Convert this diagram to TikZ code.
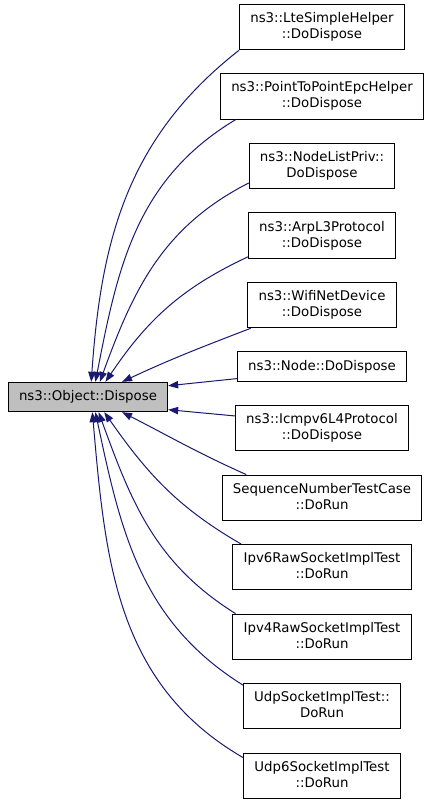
\documentclass[tikz,border=0pt]{standalone}
\usepackage{fontspec}
\setmainfont{DejaVu Sans}
\usepackage{xcolor}
\usepackage{tikz}
\usetikzlibrary{arrows.meta, positioning}
\definecolor{edgeblue}{RGB}{25,25,112}
\definecolor{rootgray}{RGB}{191,191,191}
\tikzset{
	fn/.style={draw=black, line width=0.75pt, fill=white, align=center, inner xsep=8pt, inner ysep=6pt, text depth=2.4pt, font=\fontsize{10}{12}\selectfont},
	root/.style={fn, fill=rootgray},
	call/.style={draw=edgeblue, line width=0.75pt, {Triangle[length=7.5pt,width=5.5pt,fill=edgeblue]}-}
}

\begin{document}
\begin{tikzpicture}[
	x=0.75pt, y=0.75pt,
	node distance=17.4pt]
	\useasboundingbox (0,0) rectangle (432,-803);
	\node[root] (dispose) at (88,-397) {ns3::Object::Dispose};
	\node[fn] (lte) at (322,-27) {ns3::LteSimpleHelper\\::DoDispose};
	\node[fn, below=of lte] (ptp) {ns3::PointToPointEpcHelper\\::DoDispose};
	\node[fn, below=of ptp] (nodelist) {ns3::NodeListPriv::\\DoDispose};
	\node[fn, below=of nodelist] (arp) {ns3::ArpL3Protocol\\::DoDispose};
	\node[fn, below=of arp] (wifi) {ns3::WifiNetDevice\\::DoDispose};
	\node[fn, below=of wifi] (node) {ns3::Node::DoDispose};
	\node[fn, below=of node] (icmp) {ns3::Icmpv6L4Protocol\\::DoDispose};
	\node[fn, below=of icmp] (seq) {SequenceNumberTestCase\\::DoRun};
	\node[fn, below=of seq] (ipvsix) {Ipv6RawSocketImplTest\\::DoRun};
	\node[fn, below=of ipvsix] (ipvfour) {Ipv4RawSocketImplTest\\::DoRun};
	\node[fn, below=of ipvfour] (udp) {UdpSocketImplTest::\\DoRun};
	\node[fn, below=of udp] (udpsix) {Udp6SocketImplTest\\::DoRun};
	\draw[call] (dispose.78) to[out=86, in=218] (lte.south west);
	\draw[call] (dispose.64) to[out=79, in=211] (ptp.195);
	\draw[call] (dispose.52) to[out=70, in=207] (nodelist.193);
	\draw[call] (dispose.41) to[out=56, in=205] (arp.196);
	\draw[call] (dispose.24) to[out=25, in=201] (wifi.198);
	\draw[call] (dispose.8) -- (node.188);
	\draw[call] (dispose.-9) -- (icmp.172);
	\draw[call] (dispose.-24) to[out=-27, in=156] (seq.163);
	\draw[call] (dispose.-43) to[out=-55, in=150] (ipvsix.164);
	\draw[call] (dispose.-55) to[out=-70, in=148] (ipvfour.165);
	\draw[call] (dispose.-64) to[out=-78, in=148] (udp.165);
	\draw[call] (dispose.-74) to[out=-85, in=150] (udpsix.167);
\end{tikzpicture}
\end{document}
